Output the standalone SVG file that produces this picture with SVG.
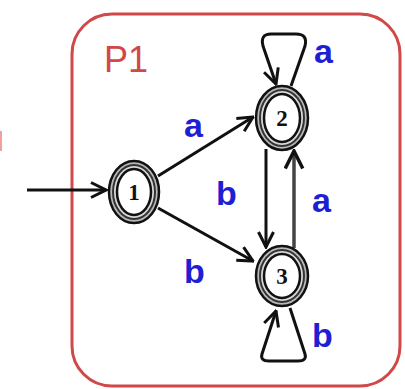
<svg xmlns="http://www.w3.org/2000/svg" width="405" height="389" viewBox="0 0 405 389">
<style>
.lbl{font-family:"Liberation Sans",Arial,sans-serif;font-weight:bold;font-size:34px;fill:#1e1ed2}
.nt{font-family:"Liberation Serif","Times New Roman",serif;font-weight:bold;font-size:23px;fill:#111;text-anchor:middle}
.edge{fill:none;stroke:#111;stroke-width:3}
.r1{fill:#b8b8b8;stroke:#111;stroke-width:2.5}
.r2{fill:#d8d8d8;stroke:#333;stroke-width:2}
.r3{fill:#fff;stroke:#111;stroke-width:2.5}
</style>
<defs>
<marker id="arr" viewBox="0 0 12 12" refX="11" refY="6" markerWidth="6" markerHeight="6" orient="auto" markerUnits="strokeWidth">
<path d="M1,1 L11,6 L1,11" fill="none" stroke="#111" stroke-width="2"/>
</marker>
</defs>
<rect x="0" y="131" width="2" height="20" fill="#f0a0a0"/>
<g id="P1">
<rect x="72" y="14" width="328" height="372" rx="40" ry="40" fill="none" stroke="#d04848" stroke-width="3"/>
<text x="104" y="72" style="font-family:'Liberation Sans',Arial,sans-serif;font-size:36px;fill:#d04848">P1</text>
</g>
<g id="connectors">
<line class="edge" x1="27" y1="190" x2="106" y2="190" marker-end="url(#arr)"/>
<line class="edge" x1="158" y1="176" x2="253" y2="117" marker-end="url(#arr)"/>
<line class="edge" x1="158" y1="208" x2="253" y2="261" marker-end="url(#arr)"/>
<line class="edge" x1="266" y1="149" x2="266" y2="247" marker-end="url(#arr)"/>
<line class="edge" x1="294" y1="248" x2="294" y2="151" marker-end="url(#arr)" style="stroke:#444;stroke-width:3.5"/>
<path class="edge" d="M291,86 L305,46 Q308,34 296,34 L271,34 Q260,34 263,46 L276,84" marker-end="url(#arr)"/>
<path class="edge" d="M290,308 L305,354 Q307,361 298,361 L269,361 Q260,361 262,354 L276,311" marker-end="url(#arr)"/>
<text class="lbl" x="184" y="137">a</text>
<text class="lbl" x="216" y="205">b</text>
<text class="lbl" x="312" y="212">a</text>
<text class="lbl" x="184" y="283">b</text>
<text class="lbl" x="314" y="63">a</text>
<text class="lbl" x="312" y="347">b</text>
</g>
<g id="node1">
<ellipse class="r1" cx="134" cy="192" rx="25" ry="31"/>
<ellipse class="r2" cx="134" cy="192" rx="21" ry="27"/>
<ellipse class="r3" cx="134" cy="192" rx="17" ry="23"/>
<text class="nt" x="134" y="200">1</text>
</g>
<g id="node2">
<ellipse class="r1" cx="282" cy="118" rx="26" ry="32"/>
<ellipse class="r2" cx="282" cy="118" rx="22" ry="28"/>
<ellipse class="r3" cx="282" cy="118" rx="18" ry="24"/>
<text class="nt" x="282" y="126">2</text>
</g>
<g id="node3">
<ellipse class="r1" cx="282" cy="276" rx="26" ry="30"/>
<ellipse class="r2" cx="282" cy="276" rx="22" ry="26"/>
<ellipse class="r3" cx="282" cy="276" rx="18" ry="22"/>
<text class="nt" x="282" y="284">3</text>
</g>
</svg>
